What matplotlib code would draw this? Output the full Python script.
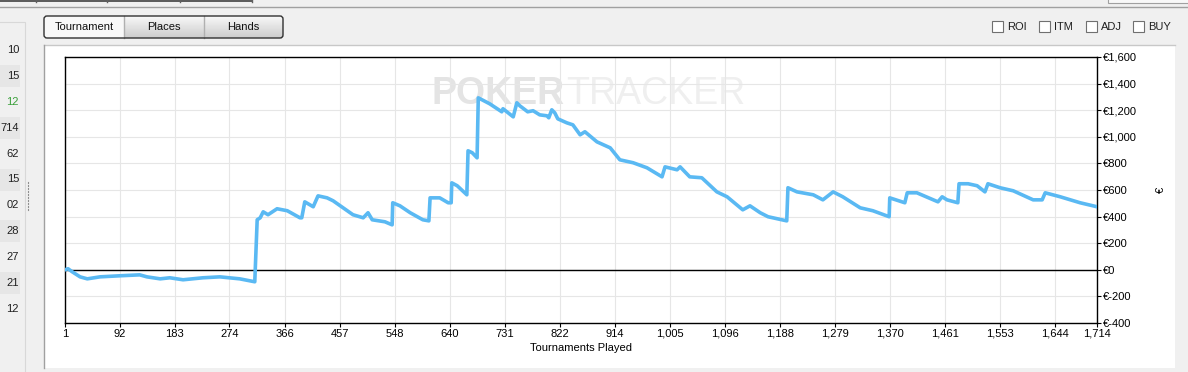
import numpy as np
import matplotlib
matplotlib.use("Agg")
import matplotlib.pyplot as plt
from matplotlib.patches import Rectangle, FancyBboxPatch

plt.rcParams['font.family'] = ['Liberation Sans', 'DejaVu Sans']

# cumulative profit (EUR), by tournament number
tournaments = [1, 6, 13, 26, 38, 59, 92, 125, 137, 159, 175, 197, 230, 258, 291, 316,
               320, 325, 330, 338, 353, 370, 391, 394, 399, 413, 421, 436, 446, 479, 496,
               504, 511, 532, 544, 545, 557, 574, 595, 605, 607, 623, 637, 642, 643, 652,
               668, 670, 677, 685, 687, 706, 726, 728, 745, 751, 756, 769, 778, 789, 801,
               804, 809, 814, 819, 834, 844, 856, 864, 884, 906, 922, 944, 967, 992, 997,
               1017, 1022, 1038, 1058, 1083, 1100, 1126, 1138, 1155, 1168, 1199, 1201,
               1216, 1243, 1259, 1276, 1292, 1321, 1342, 1369, 1370, 1395, 1399, 1415,
               1450, 1457, 1465, 1483, 1485, 1500, 1515, 1528, 1533, 1553, 1575, 1608,
               1623, 1628, 1653, 1686, 1714]
profit = [0, 8, -15, -53, -68, -53, -45, -38, -53, -68, -60, -75, -60, -53, -68, -90,
          376, 391, 436, 414, 459, 444, 391, 391, 511, 474, 556, 541, 519, 414, 391,
          429, 376, 361, 338, 504, 481, 429, 376, 368, 541, 541, 504, 504, 654, 632,
          564, 895, 880, 842, 1293, 1248, 1188, 1211, 1150, 1256, 1233, 1188, 1196, 1165, 1158,
          1143, 1203, 1180, 1135, 1105, 1090, 1015, 1038, 962, 917, 827, 805, 767, 699, 774,
          752, 774, 699, 692, 586, 549, 451, 481, 429, 399, 368, 617,
          586, 564, 526, 586, 549, 466, 444, 399, 541, 504, 579, 579,
          511, 549, 526, 504, 647, 647, 632, 586, 647, 617, 594, 526,
          526, 579, 549, 504, 474]

x_ticks = [1, 92, 183, 274, 366, 457, 548, 640, 731, 822, 914, 1005, 1096, 1188,
           1279, 1370, 1461, 1553, 1644, 1714]
y_ticks = [-400, -200, 0, 200, 400, 600, 800, 1000, 1200, 1400, 1600]

left_rows = ["10", "15", "12", "714", "62", "15", "02", "28", "27", "21", "12"]
buttons = ["Tournament", "Places", "Hands"]
checks = ["ROI", "ITM", "ADJ", "BUY"]

W, H = 1188, 372
fig = plt.figure(figsize=(W / 100, H / 100), dpi=100)
fig.patch.set_facecolor("#f0f0f0")

# background layer in pixel coordinates for the window chrome
bg = fig.add_axes([0, 0, 1, 1])
bg.set_xlim(0, W)
bg.set_ylim(H, 0)
bg.axis("off")

# top strip
bg.plot([0, W], [7, 7], color="#a0a0a0", lw=1)
bg.plot([0, 252], [1, 1], color="#404040", lw=1.2)
for xx in [36, 107, 180, 252]:
    bg.plot([xx, xx], [0, 1.5], color="#606060", lw=1)
bg.add_patch(Rectangle((1108, -2), 90, 5, facecolor="#f8f8f8", edgecolor="#a0a0a0", lw=0.8))

# left column
bg.add_patch(Rectangle((-2, 22), 27, 360, facecolor="#f0f0f0", edgecolor="#d8d8d8", lw=0.8))
for i, s in enumerate(left_rows):
    yy = 50 + i * 25.9
    if i % 2 == 1:
        bg.add_patch(Rectangle((0, yy - 11), 20, 22, facecolor="#e6e6e6", edgecolor="none"))
    bg.text(19, yy, s, ha="right", va="center", fontsize=8,
            color="#3aa03a" if i == 2 else "#202020")
for yy in np.arange(182, 210, 3):
    bg.plot([28, 28], [yy, yy + 1], color="#909090", lw=0.8)

# buttons
bx = [44, 124, 204, 283]
for i, label in enumerate(buttons):
    if i == 0:
        bg.add_patch(Rectangle((bx[i], 16), bx[i + 1] - bx[i], 22, facecolor="#f8f8f8", edgecolor="none"))
    else:
        grad = np.linspace(0.97, 0.80, 20).reshape(-1, 1)
        bg.imshow(grad, cmap="gray", vmin=0, vmax=1, aspect="auto",
                  extent=(bx[i], bx[i + 1], 38, 16), zorder=1)
    bg.text((bx[i] + bx[i + 1]) / 2, 27, label, ha="center", va="center", fontsize=8,
            color="#101010", zorder=3)
    if i > 0:
        bg.plot([bx[i], bx[i]], [16, 38], color="#b0b0b0", lw=1, zorder=2)
bg.add_patch(FancyBboxPatch((44, 16), 239, 22, boxstyle="round,pad=0,rounding_size=3",
                            facecolor="none", edgecolor="#303030", lw=1, zorder=3))
bg.set_xlim(0, W)
bg.set_ylim(H, 0)

# checkboxes
for i, label in enumerate(checks):
    cx = 992 + i * 47
    bg.add_patch(Rectangle((cx, 21), 11, 11, facecolor="white", edgecolor="#707070", lw=0.8))
    bg.text(cx + 15, 27, label, ha="left", va="center", fontsize=8, color="#202020")

# chart panel
bg.add_patch(Rectangle((44, 45), 1131, 323, facecolor="white", edgecolor="none"))
bg.plot([44, 1175], [45, 45], color="#c8c8c8", lw=1)
bg.plot([44, 44], [45, 368], color="#a0a0a0", lw=1)

# watermark
bg.text(431, 94, "POKER", fontsize=27, fontweight="bold", color="#e4e4e4",
        ha="left", va="center")
bg.text(566, 94, "TRACKER", fontsize=27, color="#efefef", ha="left", va="center")

# main chart
ax = fig.add_axes([65 / W, (H - 323) / H, 1032 / W, 266 / H])
ax.patch.set_alpha(0)
ax.set_xlim(1, 1714)
ax.set_ylim(-400, 1600)
ax.grid(True, color="#e6e6e6", lw=0.8)
ax.set_axisbelow(True)
ax.axhline(0, color="black", lw=1, zorder=2)
ax.plot(tournaments, profit, color="#5ab9f3", lw=2.6, solid_joinstyle="round", zorder=3)

ax.set_xticks(x_ticks)
ax.set_xticklabels([f"{t:,}" for t in x_ticks], fontsize=8)
ax.set_yticks(y_ticks)
ax.set_yticklabels([f"€{v:,}" for v in y_ticks], fontsize=8)
ax.yaxis.tick_right()
ax.yaxis.set_label_position("right")
ax.tick_params(axis="both", direction="out", length=3, width=0.8, pad=1, colors="black")
for sp in ax.spines.values():
    sp.set_color("black")
    sp.set_linewidth(1)
ax.set_xlabel("Tournaments Played", fontsize=8, labelpad=3)
ax.set_ylabel("€", fontsize=8, rotation=90, labelpad=14)

fig.savefig("out.png", dpi=100, facecolor=fig.get_facecolor())
